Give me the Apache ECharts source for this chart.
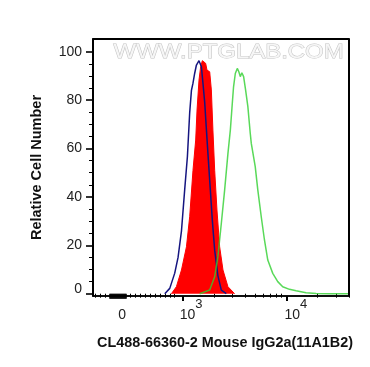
<!DOCTYPE html>
<html><head><meta charset="utf-8">
<script src="https://cdn.jsdelivr.net/npm/echarts@6/dist/echarts.min.js"></script>
<style>html,body{margin:0;padding:0;background:#fff}#c{width:370px;height:367px}</style>
</head><body><div id="c"></div>
<script>
// x values are log10 of fluorescence intensity (display scale), y values are relative cell number
const blueX = [2.827,2.875,2.923,2.955,2.988,3.019,3.045,3.067,3.084,3.099,3.115,3.132,3.157,3.180,3.195,3.212,3.228,3.243,3.266,3.286,3.308,3.339,3.372,3.420];
const blueY = [0,2.2,8.5,15,26,43,56.6,74.7,84,87,91,94.5,96.3,93.8,87,79,68,58,43,30,18,7.5,1.5,0];
const redX = [2.891,2.939,2.988,3.036,3.067,3.099,3.125,3.138,3.157,3.173,3.189,3.205,3.221,3.234,3.247,3.260,3.276,3.291,3.308,3.330,3.356,3.388,3.436,3.500];
const redY = [0,2.9,9.8,19.4,31.8,51,63.5,75.9,88.3,93.8,96.3,96.9,95.2,92.4,92.4,91.7,84.2,67.6,51,34.6,19.4,9.8,2.9,0];
const greenX = [3.163,3.260,3.308,3.339,3.372,3.404,3.436,3.459,3.478,3.490,3.507,3.526,3.541,3.555,3.570,3.587,3.606,3.628,3.651,3.661,3.676,3.699,3.724,3.757,3.788,3.820,3.868,3.916,3.964,4.029,4.093,4.189,4.286,4.413,4.600];
const greenY = [0,1.5,7,15.3,29,42.8,58,67.6,78.7,85.5,91,93.1,91.7,89.7,91.3,89.7,84.2,77.3,66.3,62.1,61.4,52.5,42.8,31.8,22.2,13.9,8.4,5,2.9,1.8,1.2,0.4,0.1,0,0];

const yTickLabels = [0,20,40,60,80,100];
const yMinorTicks = [5,10,15,25,30,35,45,50,55,65,70,75,85,90,95];
const xMajorTicks = [3,4];
const xTickLabels = [{pos:2.378,text:'0'},{pos:2.971,text:'10',exp:'3'},{pos:3.981,text:'10',exp:'4'}];
const xLinearTicks = [2.154,2.202,2.250,2.490,2.538,2.587,2.635,2.683,2.731,2.779,2.827,2.875,2.923];
const xLogMinorTicks = [3.301,3.477,3.602,3.699,3.778,3.845,3.903,3.954,4.301,4.477,4.602];
const xZeroBlob = [];
for (let p = 2.298; p <= 2.453; p += 0.0096) xZeroBlob.push(+p.toFixed(4));

const X_MIN = 2.135, X_MAX = 4.603, Y_MIN = -0.95, Y_MAX = 105.25;
const zip = (a,b)=>a.map((v,i)=>[v,b[i]]);
const FONT = 'Liberation Sans, Arial, sans-serif';

const chart = echarts.init(document.getElementById('c'), null, {renderer:'canvas'});
const labelMap = {};
xTickLabels.forEach(l=>labelMap[l.pos]=l);

const frameData = [[X_MIN, Y_MIN],[X_MIN, Y_MAX],[X_MAX, Y_MAX],[X_MAX, Y_MIN]];

chart.setOption({
  animation:false,
  backgroundColor:'#fff',
  grid:{left:93,right:21,top:39,bottom:71,show:true,borderColor:'#000',borderWidth:1.5,backgroundColor:'rgba(0,0,0,0)'},
  graphic:[{
    type:'text', left:113, top:41, z:0, scaleX:1.14,
    style:{text:'WWW.PTGLAB.COM', font:'21px '+FONT, fill:'#f6f6f6', stroke:'#c4c4c4', lineWidth:1}
  }],
  xAxis:[{
    type:'value', min:X_MIN, max:X_MAX,
    name:'CL488-66360-2 Mouse IgG2a(11A1B2)', nameLocation:'middle', nameGap:40,
    nameTextStyle:{fontFamily:FONT, fontWeight:'bold', fontSize:14.4, color:'#111', padding:[0,0,0,8]},
    axisLine:{show:true, onZero:false, lineStyle:{color:'#000', width:1.5}},
    splitLine:{show:false},
    axisTick:{show:true, customValues:xMajorTicks, length:5, lineStyle:{color:'#000', width:2}},
    axisLabel:{
      customValues:xTickLabels.map(l=>l.pos), align:'left', margin:2,
      formatter:(v)=>{const l=labelMap[v]; if(!l) return ''; return l.exp?('{b|'+l.text+'}{s|'+l.exp+'}'):('{b|'+l.text+'}');},
      rich:{
        b:{fontFamily:FONT, fontSize:14, color:'#222', lineHeight:24, verticalAlign:'bottom'},
        s:{fontFamily:FONT, fontSize:13, color:'#222', lineHeight:20, verticalAlign:'top'}
      }
    }
  },{
    type:'value', min:X_MIN, max:X_MAX, position:'bottom',
    axisLine:{show:false}, splitLine:{show:false}, axisLabel:{show:false},
    axisTick:{show:true, customValues:xLinearTicks.concat(xLogMinorTicks), length:4, lineStyle:{color:'#000', width:1}}
  },{
    type:'value', min:X_MIN, max:X_MAX, position:'bottom',
    axisLine:{show:false}, splitLine:{show:false}, axisLabel:{show:false},
    axisTick:{show:true, customValues:xZeroBlob, length:5, lineStyle:{color:'#000', width:1.6}}
  }],
  yAxis:[{
    type:'value', min:Y_MIN, max:Y_MAX,
    name:'Relative Cell Number', nameLocation:'middle', nameGap:49, nameRotate:90,
    nameTextStyle:{fontFamily:FONT, fontWeight:'bold', fontSize:14.5, color:'#111'},
    axisLine:{show:true, onZero:false, lineStyle:{color:'#000', width:1.5}},
    splitLine:{show:false},
    axisTick:{show:true, customValues:yTickLabels, length:7, lineStyle:{color:'#000', width:1.6}},
    axisLabel:{
      customValues:yTickLabels, margin:11,
      formatter:(v)=> v===0 ? '{z|0}' : String(v),
      fontFamily:FONT, fontSize:14, color:'#222',
      rich:{z:{fontFamily:FONT, fontSize:14, color:'#222', padding:[0,0,10,0]}}
    }
  },{
    type:'value', min:Y_MIN, max:Y_MAX, position:'left',
    axisLine:{show:false}, splitLine:{show:false}, axisLabel:{show:false},
    axisTick:{show:true, customValues:yMinorTicks, length:4, lineStyle:{color:'#000', width:1}}
  }],
  series:[
    {type:'line', name:'frame', data:frameData, showSymbol:false, symbol:'none', z:10, clip:false, silent:true,
     lineStyle:{color:'#000', width:2}},
    {type:'line', name:'CL488-66360-2', data:zip(redX,redY), showSymbol:false, symbol:'none', z:2,
     lineStyle:{color:'#ff0000', width:1}, areaStyle:{color:'#ff0000', opacity:1}},
    {type:'line', name:'Isotype control', data:zip(blueX,blueY), showSymbol:false, symbol:'none', z:3,
     lineStyle:{color:'#151580', width:1.5}},
    {type:'line', name:'Antibody', data:zip(greenX,greenY), showSymbol:false, symbol:'none', z:4,
     lineStyle:{color:'#30d030', width:1.5, opacity:0.8}}
  ]
});
</script></body></html>
